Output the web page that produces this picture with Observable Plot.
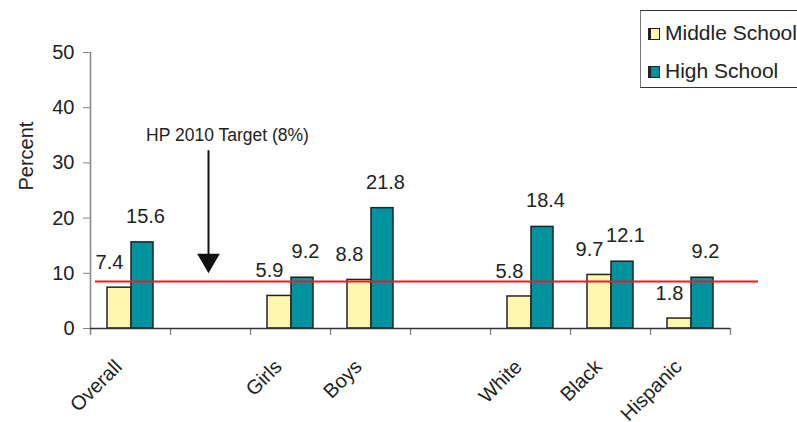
<!DOCTYPE html>
<html>
<head>
<meta charset="utf-8">
<script src="https://cdn.jsdelivr.net/npm/d3@7"></script>
<script src="https://cdn.jsdelivr.net/npm/@observablehq/plot@0.6"></script>
<style>
  html, body { margin: 0; padding: 0; background: #fff; overflow: hidden; }
  #wrap { position: relative; width: 797px; height: 422px; overflow: hidden; font-family: "Liberation Sans", Arial, sans-serif; }
  #legend { position: absolute; left: 640px; top: 10px; width: 200px; height: 78px; border: 1px solid #333; border-left-color: #777; background: #fff; box-sizing: border-box; }
  .item { position: absolute; left: 7px; font-size: 21px; color: #222; line-height: 1; white-space: nowrap; }
  .sw { display: inline-block; width: 8px; height: 10px; border: 1.5px solid #222; border-left-width: 3px; margin-right: 5px; vertical-align: 0px; }
</style>
</head>
<body>
<div id="wrap">
  <div id="chart"></div>
  <div id="legend"></div>
</div>
<script>
// ---- data ----
const categories = ["Overall", "Girls", "Boys", "White", "Black", "Hispanic"];
const xDomain = ["Overall", "gap1", "Girls", "Boys", "gap2", "White", "Black", "Hispanic"];
const middleSchool = [7.4, 5.9, 8.8, 5.8, 9.7, 1.8];
const highSchool = [15.6, 9.2, 21.8, 18.4, 12.1, 9.2];
const yTicks = [0, 10, 20, 30, 40, 50];
const seriesNames = ["Middle School", "High School"];
const seriesColors = ["#FFF6B0", "#00939F"];
const targetLine = [8.5];
const annotation = [{x: "gap1", top: 32.2, tip: 10, label: "HP 2010 Target (8%)"}];

const ms = categories.map((c, i) => ({cat: c, value: middleSchool[i]}));
const hs = categories.map((c, i) => ({cat: c, value: highSchool[i]}));
const font = "Liberation Sans, Arial, sans-serif";

const chart = Plot.plot({
  width: 797,
  height: 422,
  marginLeft: 90,
  marginRight: 67,
  marginTop: 52,
  marginBottom: 94,
  style: {fontFamily: font, background: "#fff", color: "#222"},
  x: {domain: xDomain, padding: 0, axis: null},
  y: {domain: [0, 50], axis: null},
  marks: [
    // y axis
    Plot.ruleX([xDomain[0]], {y1: 0, y2: 50, dx: -40, stroke: "#888", strokeWidth: 1.5}),
    Plot.axisY({ticks: yTicks, tickSize: 7, tickPadding: 9, fontSize: 20, stroke: "#888", label: null, fill: "#222"}),
    Plot.text(["Percent"], {frameAnchor: "left", dx: -64, rotate: -90, fontSize: 20, fill: "#222"}),
    // x axis ticks at band boundaries
    Plot.ruleX(xDomain, {x: d => d, y1: 0, y2: -1.25, dx: -40, stroke: "#888", strokeWidth: 1.5}),
    Plot.ruleX([xDomain[xDomain.length - 1]], {y1: 0, y2: -1.25, dx: 40, stroke: "#888", strokeWidth: 1.5}),
    // bars
    Plot.barY(ms, {x: "cat", y: "value", fill: seriesColors[0], stroke: "#222", strokeWidth: 1.5, insetLeft: 17, insetRight: 39}),
    Plot.barY(hs, {x: "cat", y: "value", fill: seriesColors[1], stroke: "#222", strokeWidth: 1.5, insetLeft: 41, insetRight: 17}),
    Plot.ruleY([0], {stroke: "#333", strokeWidth: 1.5}),
    // target line
    Plot.ruleY(targetLine, {stroke: "#EE1C25", strokeWidth: 2, insetLeft: 5, insetRight: -28}),
    // value labels
    Plot.text(ms, {x: "cat", y: "value", text: d => d.value.toFixed(1), dx: -21, dy: -25, fontSize: 20, fill: "#222"}),
    Plot.text(hs, {x: "cat", y: "value", text: d => d.value.toFixed(1), dx: 15, dy: -26, fontSize: 20, fill: "#222"}),
    // category labels
    Plot.text(categories, {x: d => d, y: 0, dx: -12, dy: 35, rotate: -45, textAnchor: "end", fontSize: 20, fill: "#222"}),
    // annotation arrow
    Plot.ruleX(annotation, {x: "x", y1: "top", y2: "tip", dx: -2, insetBottom: 14, stroke: "#111", strokeWidth: 2}),
    Plot.dot(annotation, {x: "x", y: "tip", dx: -2, dy: -13, symbol: "triangle", rotate: 180, r: 8.4, fill: "#111", stroke: "none"}),
    Plot.text(annotation, {x: "x", y: "top", text: "label", dx: 17, dy: -15, fontSize: 17.5, fill: "#222"})
  ]
});
document.getElementById("chart").appendChild(chart);

// legend
const legend = document.getElementById("legend");
seriesNames.forEach((name, i) => {
  const item = document.createElement("div");
  item.className = "item";
  item.style.top = (i === 0 ? 11 : 49) + "px";
  const sw = document.createElement("span");
  sw.className = "sw";
  sw.style.background = seriesColors[i];
  item.appendChild(sw);
  item.appendChild(document.createTextNode(name));
  legend.appendChild(item);
});
</script>
</body>
</html>
